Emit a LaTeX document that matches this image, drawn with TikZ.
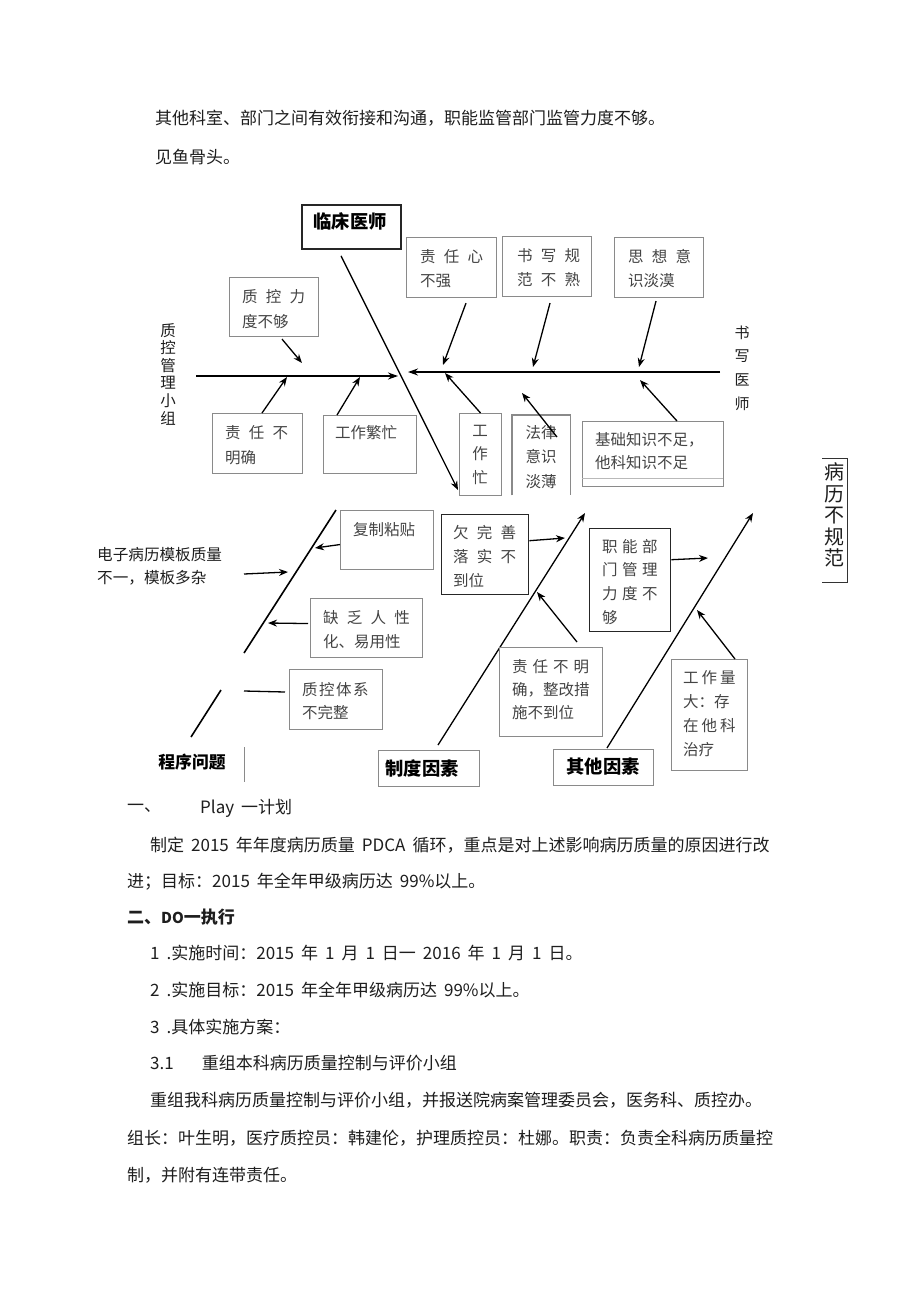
\documentclass[tikz,border=0pt]{standalone}
\usepackage{fontspec}
\setmainfont{Noto Sans CJK SC}
\usetikzlibrary{arrows.meta}
\definecolor{boxgray}{HTML}{8A8A8A}
\definecolor{txtgray}{HTML}{444444}
\definecolor{bodyblk}{HTML}{1E1E1E}
\newcommand\gp{\hspace{8.2pt}}
\newcommand\gq{\hspace{4.5pt}}
\newcommand\bodyfont{\fontsize{17}{20}\selectfont\spaceskip 7pt\relax}
\begin{document}
\begin{tikzpicture}[x=1pt,y=-1pt,
  boxline/.style={draw=boxgray, line width=1.1pt},
  darkbox/.style={draw=black!85, line width=1.4pt},
  frame/.style={inner sep=0pt, anchor=north west},
  btext/.style={inner sep=0pt, anchor=north west, align=left, text=txtgray, font=\fontsize{15.5}{24}\selectfont},
  vtext/.style={inner sep=0pt, anchor=north, align=center, text=txtgray, font=\fontsize{15.5}{24}\selectfont},
  arr/.style={line width=1.3pt, -{Stealth[length=9pt,width=7pt]}},
  spine/.style={line width=1.6pt},
  cat/.style={inner sep=0pt, text=black, font=\fontsize{18.3}{22}\selectfont\bfseries},
  body/.style={inner sep=0pt, anchor=west, text=bodyblk, font=\bodyfont},
]
\fill[white] (0,0) rectangle (920,1301);
\useasboundingbox (0,0) rectangle (920,1301);

% ---------- body text above ----------
\node[body] (t1) at (155,118) {其他科室、部门之间有效衔接和沟通，职能监管部门监管力度不够。};
\node[body] (t2) at (155,157) {见鱼骨头。};

% ---------- fishbone, upper part ----------
\node[frame, darkbox, line width=1.8pt, minimum width=99pt, minimum height=44pt] (A) at (301,204) {};
\node[cat] (At) at (350,221) {临床医师};

\node[frame, boxline, minimum width=90pt, minimum height=60pt] (B) at (406,237) {};
\node[btext] (Bt) at (420,249) {责\gp{}任\gp{}心\\不强};
\node[frame, boxline, minimum width=89pt, minimum height=60pt] (C) at (502,236) {};
\node[btext] (Ct) at (517,248) {书\gp{}写\gp{}规\\范\gp{}不\gp{}熟};
\node[frame, boxline, minimum width=89pt, minimum height=60pt] (D) at (614,237) {};
\node[btext] (Dt) at (628,249) {思\gp{}想\gp{}意\\识淡漠};
\node[frame, boxline, minimum width=89pt, minimum height=59pt] (E) at (229,277) {};
\node[btext, font=\fontsize{15.5}{25}\selectfont] (Et) at (242,289) {质\gp{}控\gp{}力\\度不够};
\node[frame, boxline, minimum width=90pt, minimum height=60pt] (F) at (212,413) {};
\node[btext, font=\fontsize{15.5}{25}\selectfont] (Ft) at (225,425) {责\gp{}任\gp{}不\\明确};
\node[frame, boxline, minimum width=93pt, minimum height=58pt] (G) at (323,415) {};
\node[btext] (Gt) at (335,425) {工作繁忙};
\node[frame, boxline, minimum width=42pt, minimum height=82pt] (H) at (459,413) {};
\node[vtext, font=\fontsize{15.5}{23.5}\selectfont] (Ht) at (480,425) {工\\作\\忙};
\node[frame, minimum width=58pt, minimum height=80pt] (I) at (512,415) {};
\draw[boxline] (I.south west) |- (I.north east) -- (I.south east);
\node[vtext, font=\fontsize{15.5}{24.5}\selectfont] (It) at (541,425) {法律\\意识\\淡薄};
\node[frame, boxline, minimum width=141pt, minimum height=65pt] (J) at (582,421) {};
\node[btext, font=\fontsize{15.5}{23}\selectfont] (Jt) at (595,432) {基础知识不足，\\他科知识不足};
\draw[draw=boxgray!60, line width=0.8pt] (J.south west) ++(0,-9) -- ++(141,0);

% side labels
\node[inner sep=0pt, align=center, text=bodyblk, font=\fontsize{15.5}{17.6}\selectfont] (lq) at (168,374) {质\\控\\管\\理\\小\\组};
\node[inner sep=0pt, align=center, text=bodyblk, font=\fontsize{15}{23.7}\selectfont] (lw) at (742,368) {书\\写\\医\\师};

% spines
\coordinate (L0) at (196,376);
\coordinate (L1) at (398,376);
\coordinate (R0) at (720,372);
\coordinate (R1) at (408,372);
\draw[spine, -{Stealth[length=10pt,width=7pt]}] (L0) -- (L1);
\draw[spine, -{Stealth[length=10pt,width=7pt]}] (R0) -- (R1);
\coordinate (Aend) at (458,490);
\draw[arr] ([xshift=40pt,yshift=-6pt]A.south west) -- (Aend);

% branch arrows, upper
\coordinate (e1) at (302,363);
\coordinate (f1) at (287,377);
\coordinate (g1) at (360,377);
\coordinate (b1) at (443,365);
\coordinate (c1) at (533,367);
\coordinate (d1) at (639,367);
\coordinate (h1) at (445,373);
\coordinate (i0) at (557,437);
\coordinate (i1) at (522,393);
\coordinate (j1) at (640,380);
\draw[arr] ([xshift=53pt,yshift=-2pt]E.south west) -- (e1);
\draw[arr] ([xshift=50pt]F.north west) -- (f1);
\draw[arr] ([xshift=14pt]G.north west) -- (g1);
\draw[arr] ([xshift=60pt,yshift=-5pt]B.south west) -- (b1);
\draw[arr] ([xshift=48pt,yshift=-6pt]C.south west) -- (c1);
\draw[arr] ([xshift=42pt,yshift=-3pt]D.south west) -- (d1);
\draw[arr] (H.north) -- (h1);
\draw[arr] (i0) -- (i1);
\draw[arr] ([xshift=95pt]J.north west) -- (j1);

% ---------- fishbone, lower part ----------
\coordinate (p0) at (244,653);
\coordinate (p1) at (336,510);
\coordinate (p2) at (191,737);
\coordinate (p3) at (221,690);
\draw[spine] (p0) -- (p1);
\draw[spine] (p2) -- (p3);
\draw[draw=boxgray, line width=0.9pt] (244,747) -- (244,782);

\node[inner sep=0pt, anchor=west, align=left, text=bodyblk, font=\fontsize{15.6}{23}\selectfont] (el) at (97,566) {电子病历模板质量\\不一，模板多杂};
\coordinate (el0) at (244,574);
\coordinate (el1) at (288,572);
\draw[arr] (el0) -- (el1);

\node[frame, boxline, minimum width=93pt, minimum height=59pt] (K) at (340,510) {};
\node[btext] (Kt) at (353,522) {复制粘贴};
\coordinate (k1) at (315,548);
\draw[arr] ([yshift=-4.5pt]K.west) -- (k1);

\node[frame, boxline, minimum width=112pt, minimum height=59pt] (L) at (310,598) {};
\node[btext] (Lt) at (323,610) {缺\gp{}乏\gp{}人\gp{}性\\化、易用性};
\coordinate (l1) at (268,623);
\draw[arr] ([xshift=-2pt,yshift=4.5pt]L.west) -- (l1);

\node[frame, boxline, minimum width=93pt, minimum height=60pt] (M) at (289,669) {};
\node[btext, font=\fontsize{15.5}{23}\selectfont] (Mt) at (302,682) {质\hspace{1.5pt}控\hspace{1.5pt}体\hspace{1.5pt}系\\不完整};
\coordinate (m0) at (244,691);
\coordinate (m1) at (285,692);
\draw[spine, line width=1.3pt] (m0) -- (m1);

\node[cat, font=\fontsize{16.8}{20}\selectfont\bfseries] (prog) at (192,762) {程序问题};

\node[frame, boxline, line width=1.3pt, minimum width=101pt, minimum height=36pt] (N) at (378,750) {};
\node[cat] (Nt) at (422,768) {制度因素};
\coordinate (n1) at (585,513);
\draw[arr] ([xshift=60pt,yshift=5pt]N.north west) -- (n1);

\node[frame, darkbox, minimum width=87pt, minimum height=80pt] (O) at (441,514) {};
\node[btext] (Ot) at (453,525) {欠\gp{}完\gp{}善\\落\gp{}实\gp{}不\\到位};
\coordinate (o1) at (565,538);
\draw[arr] ([yshift=14pt]O.east) -- (o1);

\node[frame, boxline, minimum width=103pt, minimum height=89pt] (P) at (499,647) {};
\node[btext, font=\fontsize{15.5}{23}\selectfont] (Pt) at (512,659) {责\hspace{5pt}任\hspace{5pt}不\hspace{5pt}明\\确，整改措\\施不到位};
\coordinate (pp1) at (537,592);
\draw[arr] ([xshift=78pt,yshift=5pt]P.north west) -- (pp1);

\node[frame, darkbox, minimum width=81pt, minimum height=103pt] (Q) at (589,528) {};
\node[btext, font=\fontsize{15.5}{23.7}\selectfont] (Qt) at (602,539) {职\gq{}能\gq{}部\\门\gq{}管\gq{}理\\力\gq{}度\gq{}不\\够};
\coordinate (q1) at (708,558);
\draw[arr] ([yshift=20.5pt]Q.east) -- (q1);

\node[frame, boxline, line width=1.3pt, minimum width=100pt, minimum height=36pt] (S) at (553,749) {};
\node[cat] (St) at (603,767) {其他因素};
\coordinate (s1) at (753,513);
\draw[arr] ([xshift=54pt,yshift=1pt]S.north west) -- (s1);

\node[frame, boxline, minimum width=76pt, minimum height=111pt] (R) at (671,659) {};
\node[btext, font=\fontsize{15.5}{24}\selectfont] (Rt) at (683,670) {工\hspace{3pt}作\hspace{3pt}量\\大：存\\在\hspace{3pt}他\hspace{3pt}科\\治疗};
\coordinate (r1) at (697,610);
\draw[arr] ([xshift=64pt]R.north west) -- (r1);

% effect
\node[inner sep=0pt, align=center, text=bodyblk, font=\fontsize{20}{21.6}\selectfont] (eff) at (834,515) {病\\历\\不\\规\\范};
\draw[line width=0.9pt, draw=black!80] (822,458) -- (847,458) -- (847,582) -- (822,582);

% ---------- body text below ----------
\node[body] (u1) at (127,808) {一、};
\node[body] (u2) at (200,808) {Play 一计划};
\node[body] (u3) at (150,845) {制定 2015 年年度病历质量 PDCA 循环，重点是对上述影响病历质量的原因进行改};
\node[body] (u4) at (127,882) {进；目标：2015 年全年甲级病历达 99\%以上。};
\node[body, font=\bodyfont\bfseries] (u5) at (127,917) {二、{\fontsize{15}{18}\selectfont DO}一执行};
\node[body] (u6) at (150,953) {1 .实施时间：2015 年 1 月 1 日一 2016 年 1 月 1 日。};
\node[body] (u7) at (150,990) {2 .实施目标：2015 年全年甲级病历达 99\%以上。};
\node[body] (u8) at (150,1027) {3 .具体实施方案：};
\node[body] (u9) at (150,1063) {3.1\hspace{28pt}重组本科病历质量控制与评价小组};
\node[body] (u10) at (150,1100) {重组我科病历质量控制与评价小组，并报送院病案管理委员会，医务科、质控办。};
\node[body] (u11) at (127,1138) {组长：叶生明，医疗质控员：韩建伦，护理质控员：杜娜。职责：负责全科病历质量控};
\node[body] (u12) at (127,1175) {制，并附有连带责任。};
\end{tikzpicture}
\end{document}
